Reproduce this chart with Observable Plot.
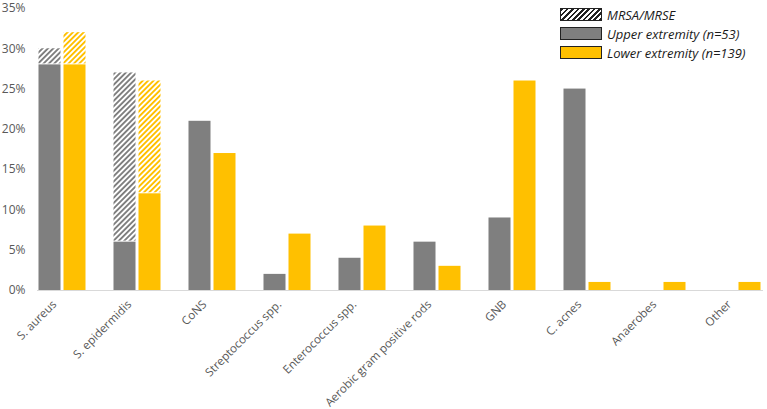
<!DOCTYPE html>
<html>
<head>
<meta charset="utf-8">
<script src="https://cdn.jsdelivr.net/npm/d3@7"></script>
<script src="https://cdn.jsdelivr.net/npm/@observablehq/plot@0.6"></script>
<style>
  html, body { margin: 0; padding: 0; background: #fff; }
  #wrap { position: relative; width: 767px; height: 409px; font-family: "Open Sans", sans-serif; }
  #legend { position: absolute; left: 560px; top: 5px; font-style: italic; font-size: 13px; color: #1a1a1a; }
  .row { display: flex; align-items: center; height: 19px; }
  .sw { width: 42px; height: 13px; border: 1px solid #222; margin-right: 5px; box-sizing: border-box; }
</style>
</head>
<body>
<div id="wrap">
  <div id="chart"></div>
  <div id="legend"></div>
</div>
<script>
const categories = ["S. aureus", "S. epidermidis", "CoNS", "Streptococcus spp.", "Enterococcus spp.",
  "Aerobic gram positive rods", "GNB", "C. acnes", "Anaerobes", "Other"];
// Percent of isolates; "resistant" = MRSA/MRSE share stacked on top
const upperSusceptible = [28, 6, 21, 2, 4, 6, 9, 25, 0, 0];
const upperResistant   = [2, 21, 0, 0, 0, 0, 0, 0, 0, 0];
const lowerSusceptible = [28, 12, 17, 7, 8, 3, 26, 1, 1, 1];
const lowerResistant   = [4, 14, 0, 0, 0, 0, 0, 0, 0, 0];
const yTicks = [0, 5, 10, 15, 20, 25, 30, 35];
const legendLabels = ["MRSA/MRSE", "Upper extremity (n=53)", "Lower extremity (n=139)"];

const GREY = "#7F7F7F", GOLD = "#FFC000";
const idx = d3.range(categories.length);

function bars(sus, res, color, pid, dx) {
  return [
    Plot.barY(idx.filter(i => sus[i] > 0), {x: i => categories[i], y1: 0, y2: i => sus[i], fill: color, dx}),
    Plot.barY(idx.filter(i => res[i] > 0), {x: i => categories[i], y1: i => sus[i], y2: i => sus[i] + res[i],
      fill: `url(#${pid})`, dx, insetBottom: 1})
  ];
}

const chart = Plot.plot({
  width: 767,
  height: 409,
  marginTop: 8,
  marginBottom: 119,
  marginLeft: 37,
  marginRight: 4,
  style: {fontFamily: "Open Sans, sans-serif", fontSize: "12px", color: "#595959", background: "#fff"},
  x: {domain: categories, range: [24, 774], paddingInner: 0.7067, paddingOuter: 0.3533},
  y: {domain: [0, 35], ticks: yTicks, tickFormat: d => d + "%", tickSize: 0, tickPadding: 12, label: null},
  marks: [
    ...bars(upperSusceptible, upperResistant, GREY, "hatch-upper", -12.5),
    ...bars(lowerSusceptible, lowerResistant, GOLD, "hatch-lower", 12.5),
    Plot.ruleY([0], {stroke: "#D9D9D9", strokeWidth: 1.2}),
    Plot.axisX({tickSize: 0, tickRotate: -45, tickPadding: 6, dx: -8, dy: 6, fontSize: 11.6, label: null, fill: "#595959"})
  ]
});

// hatch patterns
const ns = "http://www.w3.org/2000/svg";
const defs = document.createElementNS(ns, "defs");
[["hatch-upper", GREY], ["hatch-lower", GOLD]].forEach(([id, c]) => {
  const p = document.createElementNS(ns, "pattern");
  p.setAttribute("id", id);
  p.setAttribute("patternUnits", "userSpaceOnUse");
  p.setAttribute("width", "3.8");
  p.setAttribute("height", "10");
  p.setAttribute("patternTransform", "rotate(45)");
  const bg = document.createElementNS(ns, "rect");
  bg.setAttribute("width", "3.8"); bg.setAttribute("height", "10"); bg.setAttribute("fill", "#fff");
  const r = document.createElementNS(ns, "rect");
  r.setAttribute("width", "1.9"); r.setAttribute("height", "10"); r.setAttribute("fill", c);
  p.appendChild(bg); p.appendChild(r);
  defs.appendChild(p);
});
chart.insertBefore(defs, chart.firstChild);
document.getElementById("chart").appendChild(chart);

// legend
const swatches = [
  "background: repeating-linear-gradient(135deg, #222 0 1.8px, #fff 1.8px 3.8px);",
  `background: ${GREY};`,
  `background: ${GOLD};`
];
const leg = document.getElementById("legend");
legendLabels.forEach((t, i) => {
  const row = document.createElement("div");
  row.className = "row";
  row.innerHTML = `<div class="sw" style="${swatches[i]}"></div><span>${t}</span>`;
  leg.appendChild(row);
});
</script>
</body>
</html>
